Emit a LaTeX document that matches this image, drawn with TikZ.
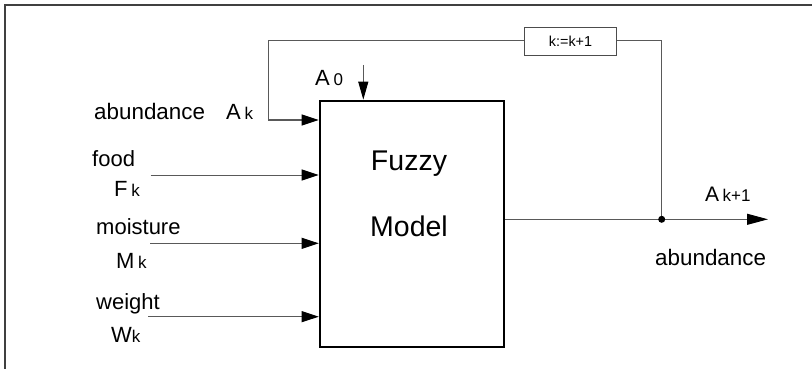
\documentclass[tikz,border=0pt]{standalone}
\usepackage{fontspec}
\setmainfont{Liberation Sans}
\usetikzlibrary{arrows.meta}
\newcommand{\fsz}[1]{\fontsize{#1}{#1}\selectfont}
\tikzset{
  wire/.style={draw=black!65, line width=1pt},
  inarrow/.style={wire, -{Triangle[length=17pt,width=11pt,color=black]}},
  lbl/.style={inner sep=0pt, anchor=base west, text=black},
  frame/.style={draw=black!75, line width=1.6pt},
}
\begin{document}
\begin{tikzpicture}[x=1pt,y=-1pt]
\useasboundingbox (0,0) rectangle (812,369);
% outer frame (top and left edges)
\draw[frame] (812,5) -- (5,5) -- (5,369);
% main block
\node[draw=black, line width=2.6pt, minimum width=184pt, minimum height=246pt, inner sep=0pt] (fm) at (412,224) {};
\node[inner sep=0pt, anchor=base, text=black] (fuzzy) at (409,170.7) {\fsz{28.5}Fuzzy};
\node[inner sep=0pt, anchor=base, text=black] (model) at (409,236) {\fsz{28.5}Model};
% counter box
\node[draw=black!70, line width=0.9pt, minimum width=92pt, minimum height=28pt, inner sep=0pt, text=black] (kk) at (570.5,41) {\fsz{14.4}k:=k+1};
% coordinates
\coordinate (jn) at (661.7,219.3);
\coordinate (tr) at (661.7,41);
\coordinate (tl) at (268.3,41);
\coordinate (bl) at (268.3,120);
\coordinate (fin) at (150.7,175);
\coordinate (min) at (150,243.3);
\coordinate (win) at (148,316.7);
\coordinate (a0) at (363.3,65);
\coordinate (out) at (768,219.3);
% input arrows
\draw[inarrow] (bl) -- (bl -| fm.west);
\draw[inarrow] (fin) -- (fin -| fm.west);
\draw[inarrow] (min) -- (min -| fm.west);
\draw[inarrow] (win) -- (win -| fm.west);
\draw[wire, -{Triangle[length=18pt,width=10pt,color=black]}] (a0) -- (a0 |- fm.north);
% output and feedback
\draw[wire, -{Triangle[length=21pt,width=11pt,color=black]}] (fm.east |- jn) -- (out);
\draw[wire] (jn) -- (tr) -- (kk.east);
\draw[wire] (kk.west) -- (tl) -- (bl);
\fill[black] (jn) circle (3.5pt);
% labels
\node[lbl] (l1) at (94,119) {\fsz{22.4}abundance};
\node[lbl] (l1s) at (226,119) {\fsz{22}A\,\fsz{17}k};
\node[lbl] (l2) at (92,166) {\fsz{22}food};
\node[lbl] (l2s) at (114,196) {\fsz{22}F\,\fsz{17}k};
\node[lbl] (l3) at (96,234.3) {\fsz{22}moisture};
\node[lbl] (l3s) at (116,268.3) {\fsz{22}M\,\fsz{17}k};
\node[lbl] (l4) at (96,309.3) {\fsz{22}weight};
\node[lbl] (l4s) at (111,342.7) {\fsz{22}W\fsz{17}k};
\node[lbl] (la0) at (315,85) {\fsz{22}A\,\fsz{17}0};
\node[lbl] (lout) at (705,201.7) {\fsz{21}A\,\fsz{17}k+1};
\node[lbl] (lab) at (655,265) {\fsz{22.4}abundance};
\end{tikzpicture}
\end{document}
